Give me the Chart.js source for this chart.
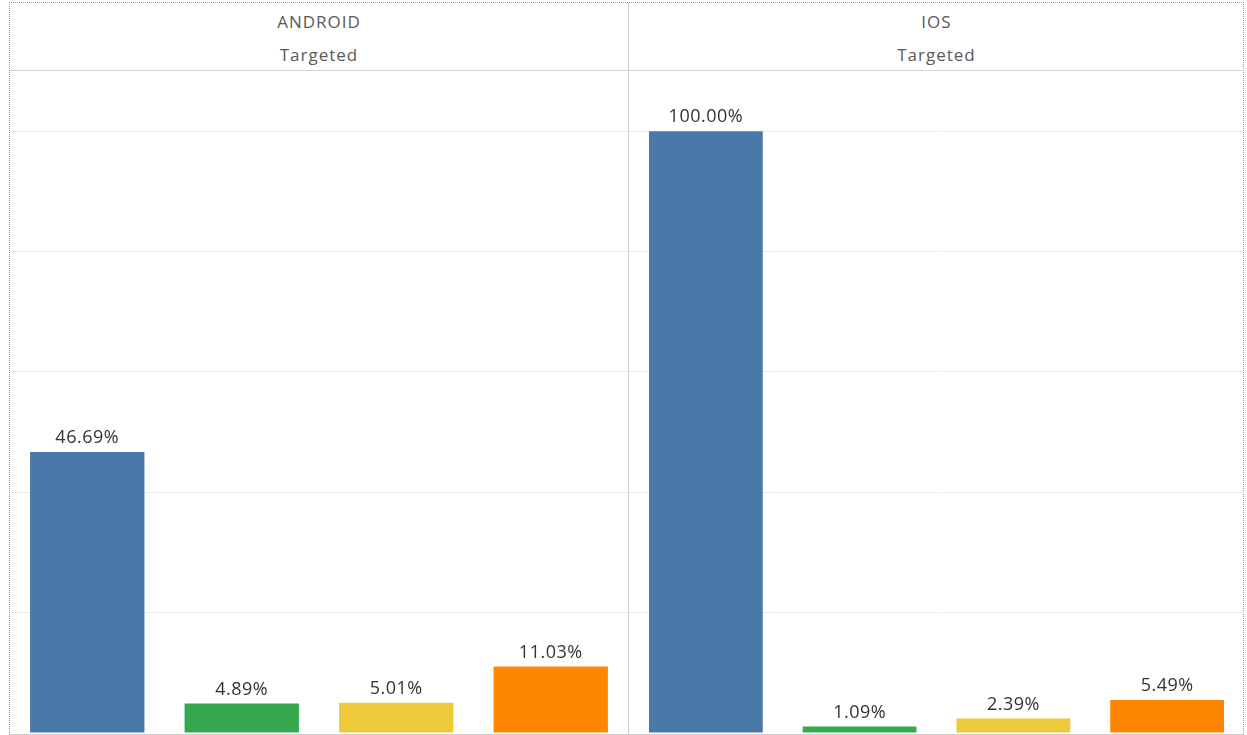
<!DOCTYPE html>
<html>
<head>
<meta charset="utf-8">
<script src="https://cdn.jsdelivr.net/npm/chart.js@4/dist/chart.umd.min.js"></script>
<style>
  body { margin: 0; background: #fff; font-family: "Open Sans", sans-serif; }
  #frame {
    position: absolute; left: 9px; top: 2px; width: 1233px; height: 731px;
    border-top: 1px dotted #999; border-left: 1px dotted #999; border-right: 1px dotted #999;
    border-bottom: 1px solid #ccc;
  }
  .panel { position: absolute; top: 0; height: 731px; }
  #left { left: 0; width: 618px; }
  #right { left: 618px; width: 615px; border-left: 1px solid #ccc; }
  .head {
    height: 68px; border-bottom: 1px solid #d4d4d4; text-align: center;
    color: #5a5a5a; font-size: 17px; letter-spacing: 1px; line-height: 33px; padding-top: 2px; box-sizing: border-box;
  }
  .plot { position: relative; height: 662px; }
</style>
</head>
<body>
<div id="frame">
  <div class="panel" id="left">
    <div class="head"><div id="t0"></div><div id="s0"></div></div>
    <div class="plot"><canvas id="c0"></canvas></div>
  </div>
  <div class="panel" id="right">
    <div class="head"><div id="t1"></div><div id="s1"></div></div>
    <div class="plot"><canvas id="c1"></canvas></div>
  </div>
</div>
<script>
const panelTitles = ['ANDROID', 'IOS'];
const subTitle = 'Targeted';
const categories = ['Group 1', 'Group 2', 'Group 3', 'Group 4'];
const androidValues = [46.69, 4.89, 5.01, 11.03];
const iosValues = [100.00, 1.09, 2.39, 5.49];
const barColors = ['#4a78a8', '#36a94e', '#ecca3a', '#ff8600'];

// labels above each bar
const valueLabels = {
  id: 'valueLabels',
  afterDatasetsDraw(chart) {
    const ctx = chart.ctx;
    const meta = chart.getDatasetMeta(0);
    ctx.save();
    ctx.font = '18px "Open Sans", sans-serif';
    ctx.letterSpacing = '0.5px';
    ctx.fillStyle = '#333';
    ctx.textAlign = 'center';
    ctx.textBaseline = 'bottom';
    meta.data.forEach((bar, i) => {
      const v = chart.data.datasets[0].data[i];
      ctx.fillText(v.toFixed(2) + '%', bar.x, bar.y - 5);
    });
    ctx.restore();
  }
};

function makeChart(id, values) {
  return new Chart(document.getElementById(id), {
    type: 'bar',
    data: {
      labels: categories,
      datasets: [{
        data: values,
        backgroundColor: barColors,
        borderWidth: 0,
        barPercentage: 0.74,
        categoryPercentage: 1
      }]
    },
    options: {
      responsive: true,
      maintainAspectRatio: false,
      animation: false,
      layout: { padding: 0 },
      plugins: { legend: { display: false }, tooltip: { enabled: false } },
      scales: {
        x: { display: false },
        y: {
          min: 0, max: 110,
          ticks: { display: false, stepSize: 20 },
          border: { display: false },
          grid: {
            drawTicks: false,
            color: c => (c.tick && (c.tick.value === 0 || c.tick.value === 110)) ? 'rgba(0,0,0,0)' : '#ececec'
          }
        }
      }
    },
    plugins: [valueLabels]
  });
}

['t0', 't1'].forEach((id, i) => { document.getElementById(id).textContent = panelTitles[i]; });
['s0', 's1'].forEach(id => { document.getElementById(id).textContent = subTitle; });
makeChart('c0', androidValues);
makeChart('c1', iosValues);
</script>
</body>
</html>
